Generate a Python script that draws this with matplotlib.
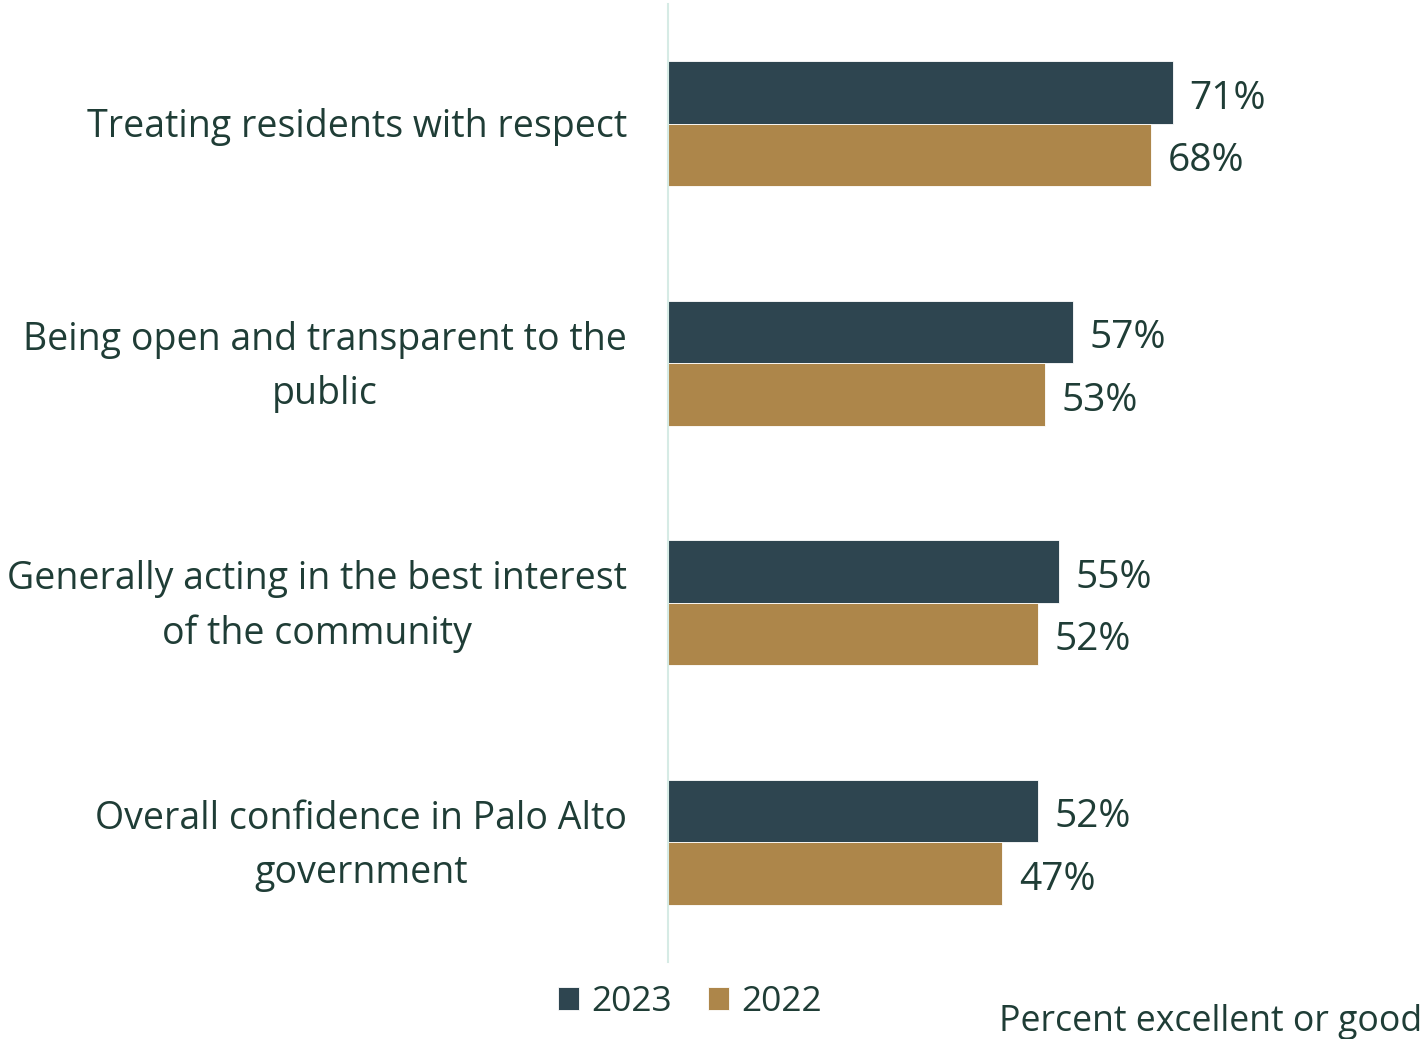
import matplotlib
matplotlib.use("Agg")
import matplotlib.pyplot as plt
import matplotlib.transforms as mtransforms
import numpy as np

plt.rcParams['font.family'] = ['Open Sans', 'DejaVu Sans']

categories = [
    "Treating residents with respect",
    "Being open and transparent to the\npublic",
    "Generally acting in the best interest\nof the community",
    "Overall confidence in Palo Alto\ngovernment",
]
series_names = ["2023", "2022"]
values_2023 = [71, 57, 55, 52]
values_2022 = [68, 53, 52, 47]

c2023 = "#2E4550"
c2022 = "#AD864A"
text_color = "#1F3D36"
axis_color = "#D6EBE5"

W, H = 1423, 1039
fig = plt.figure(figsize=(W / 100, H / 100), dpi=100)
ax = fig.add_axes([668 / W, 1 - 962 / H, 1 - 668 / W, (962 - 4) / H])

y = np.arange(len(categories))
bh = 0.26
b1 = ax.barh(y - bh / 2, values_2023, height=bh, color=c2023, edgecolor="#FFFFFF",
             linewidth=0.6, label=series_names[0])
b2 = ax.barh(y + bh / 2, values_2022, height=bh, color=c2022, edgecolor="#FFFFFF",
             linewidth=0.6, label=series_names[1])

fs = 27
for bars, vals in ((b1, values_2023), (b2, values_2022)):
    for rect, v in zip(bars, vals):
        ax.annotate(f"{v}%", (rect.get_width(), rect.get_y() + rect.get_height() / 2),
                    xytext=(12, -4.5), textcoords="offset points", va="center", ha="left",
                    fontsize=28, color=text_color)

ax.set_xlim(0, (W - 668) / 7.11)
ax.set_ylim(3.5, -0.5)
ax.set_xticks([])
ax.set_yticks([])

# category labels: right-aligned block left of the axis, lines centred
label_tr = ax.get_yaxis_transform() + mtransforms.ScaledTranslation(
    -41 / 100, -3.5 / 100, fig.dpi_scale_trans)
for yi, cat in zip(y, categories):
    ax.text(0, yi, cat, transform=label_tr, ha="right", va="center",
            multialignment="center", linespacing=1.55, fontsize=fs, color=text_color)

for s in ("top", "right", "bottom"):
    ax.spines[s].set_visible(False)
ax.spines["left"].set_color(axis_color)
ax.spines["left"].set_linewidth(1.5)

fig.legend(handles=[b1, b2], labels=series_names, loc="center",
           bbox_to_anchor=(690 / W, 1 - 1002 / H), ncol=2, frameon=False,
           fontsize=25.5, labelcolor=text_color, handlelength=0.6, handleheight=0.6,
           handletextpad=0.35, columnspacing=1.0)

fig.text(1 - 1 / W, 1 - 1022 / H, "Percent excellent or good", ha="right", va="center",
         fontsize=25.7, color=text_color)

fig.savefig("out.png", dpi=100, facecolor="white")
